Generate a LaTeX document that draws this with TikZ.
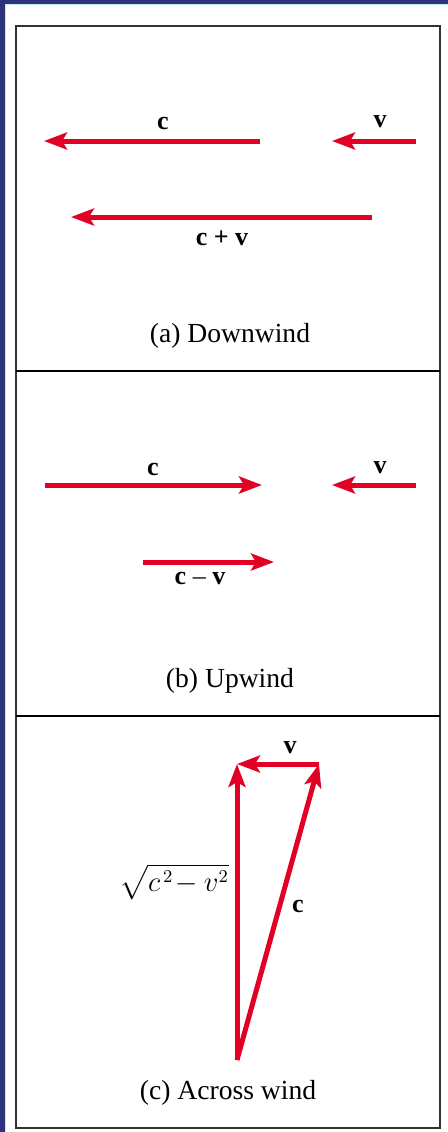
\documentclass[tikz,border=0pt]{standalone}
\usepackage{fontspec}
\setmainfont{Liberation Serif}
\usepackage{amsmath}
\usetikzlibrary{arrows.meta}
\definecolor{vecred}{RGB}{226,0,36}
\definecolor{frameblue}{RGB}{44,50,124}
\definecolor{framecyan}{RGB}{190,235,235}

\begin{document}
\begin{tikzpicture}[x=0.5pt,y=-0.5pt]
  \tikzstyle{vec}=[vecred,line width=2.5pt,-{Stealth[length=11.5pt,width=8.5pt,inset=2.5pt]}]
  \tikzstyle{vlabel}=[font=\fontsize{13}{15}\selectfont\bfseries,inner sep=0pt]
  \tikzstyle{caption}=[font=\fontsize{13.8}{16}\selectfont,inner sep=0pt]
  \useasboundingbox (0,0) rectangle (448,1132);
  \fill[frameblue] (0,0) rectangle (448,3.5);
  \fill[frameblue] (0,0) rectangle (4.5,1132);
  \draw[framecyan,line width=0.7pt] (5.5,1132) -- (5.5,4.5) -- (448,4.5);
  \draw[black!80,line width=1pt] (16,26) rectangle (440,1128);
  \draw[black,line width=0.8pt] (16,371) -- (440,371);
  \draw[black,line width=0.8pt] (16,716) -- (440,716);
  % (a) downwind
  \coordinate (ca1) at (260,141);
  \coordinate (ca2) at (44,141);
  \coordinate (va1) at (416,141);
  \coordinate (va2) at (332,141);
  \coordinate (sa1) at (372,217);
  \coordinate (sa2) at (71,217);
  \draw[vec] (ca1) -- (ca2);
  \draw[vec] (va1) -- (va2);
  \draw[vec] (sa1) -- (sa2);
  \node[vlabel] (lca) at (163,123) {c};
  \node[vlabel] (lva) at (380,122) {v};
  \node[vlabel] (lsa) at (222,238) {c + v};
  \node[caption] (capa) at (230,336) {(a) Downwind};
  % (b) upwind
  \coordinate (cb1) at (45,485);
  \coordinate (cb2) at (262,485);
  \coordinate (vb1) at (416,485);
  \coordinate (vb2) at (332,485);
  \coordinate (db1) at (143,562);
  \coordinate (db2) at (274,562);
  \draw[vec] (cb1) -- (cb2);
  \draw[vec] (vb1) -- (vb2);
  \draw[vec] (db1) -- (db2);
  \node[vlabel] (lcb) at (153,469) {c};
  \node[vlabel] (lvb) at (380,468) {v};
  \node[vlabel] (ldb) at (200,578) {c {\normalfont\textendash} v};
  \node[caption] (capb) at (230,681) {(b) Upwind};
  % (c) across wind
  \coordinate (o) at (237,1060);
  \coordinate (top) at (237,764);
  \coordinate (vc) at (319,764);
  \draw[vec] (o) -- (top);
  \draw[vec] (vc) -- (top);
  \draw[vec] (o) -- (vc);
  \node[vlabel] (lvc) at (290,748) {v};
  \node[vlabel] (lcc) at (298,906) {c};
  \node[inner sep=0pt,font=\fontsize{13.5}{16}\selectfont] (lsq) at (174,882)
    {$\sqrt{\mathstrut c^{\,2}\!-v^2}$};
  \node[caption] (capc) at (228,1093) {(c) Across wind};
\end{tikzpicture}
\end{document}
